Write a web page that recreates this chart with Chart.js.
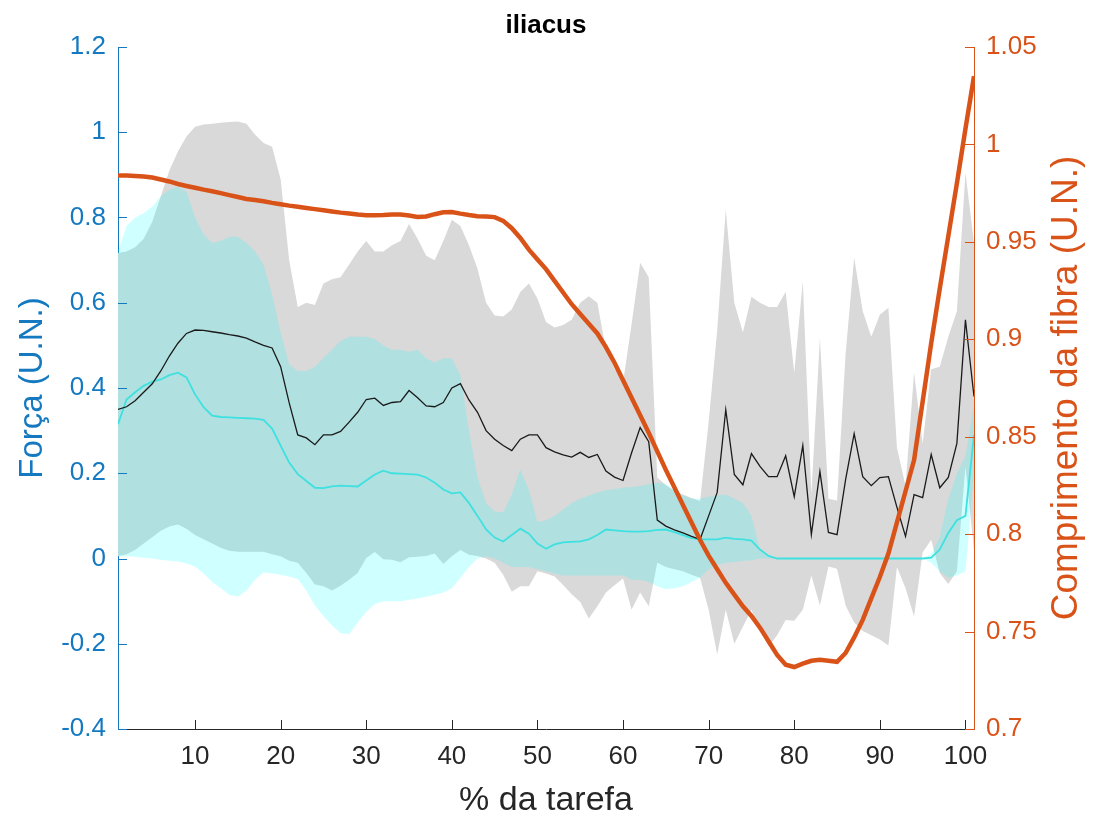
<!DOCTYPE html>
<html>
<head>
<meta charset="utf-8">
<title>iliacus</title>
<script src="https://cdn.jsdelivr.net/npm/chart.js@4.4.1/dist/chart.umd.min.js"></script>
<style>
  html, body { margin: 0; padding: 0; background: #fff; }
  #wrap { width: 1098px; height: 822px; }
</style>
</head>
<body>
<div id="wrap"><canvas id="chart" width="1098" height="822"></canvas></div>
<script>
// --- dados: % da tarefa (1..101) ---
const pct = [1,2,3,4,5,6,7,8,9,10,11,12,13,14,15,16,17,18,19,20,21,22,23,24,25,26,27,28,29,30,
  31,32,33,34,35,36,37,38,39,40,41,42,43,44,45,46,47,48,49,50,51,52,53,54,55,56,57,58,59,60,
  61,62,63,64,65,66,67,68,69,70,71,72,73,74,75,76,77,78,79,80,81,82,83,84,85,86,87,88,89,90,
  91,92,93,94,95,96,97,98,99,100,101];

// força média (linha preta) e faixa cinza
const forceMean = [.350,.356,.370,.390,.410,.440,.475,.505,.528,.536,
  .535,.532,.529,.525,.522,.517,.508,.500,.494,.450,
  .365,.290,.283,.267,.290,.290,.298,.320,.343,.373,
  .376,.359,.366,.368,.394,.377,.358,.356,.366,.400,
  .410,.372,.343,.300,.280,.265,.253,.280,.290,.290,
  .260,.250,.243,.238,.249,.237,.244,.205,.191,.183,
  .248,.307,.274,.090,.076,.067,.060,.052,.045,.100,
  .155,.349,.197,.173,.246,.216,.192,.192,.241,.145,
  .265,.056,.204,.061,.056,.185,.293,.192,.171,.190,
  .192,.120,.052,.150,.143,.244,.166,.190,.270,.560,.380];
const forceHi = [.717,.720,.730,.750,.790,.850,.910,.955,.990,1.013,
  1.018,1.020,1.022,1.024,1.025,1.020,.995,.975,.966,.890,
  .700,.590,.600,.595,.645,.655,.660,.690,.720,.745,
  .720,.720,.735,.745,.785,.750,.710,.700,.745,.795,
  .780,.735,.680,.600,.570,.568,.584,.625,.645,.610,
  .555,.542,.548,.560,.600,.615,.600,.490,.445,.413,
  .550,.694,.660,.190,.172,.159,.150,.142,.135,.320,
  .535,.818,.600,.530,.614,.600,.590,.590,.626,.436,
  .650,.150,.518,.140,.136,.480,.706,.580,.520,.572,
  .588,.260,.170,.436,.270,.444,.450,.520,.580,.905,.740];
const forceLo = [.005,.010,.020,.035,.050,.065,.075,.080,.070,.055,
  .045,.035,.025,.018,.016,.016,.016,.016,.010,.005,
  -.005,-.010,-.034,-.061,-.065,-.075,-.064,-.050,-.034,.001,
  .015,-.002,-.003,-.009,.003,.004,.006,.012,-.013,.005,
  .020,.009,.006,.000,-.010,-.038,-.078,-.065,-.065,-.030,
  -.035,-.042,-.062,-.084,-.102,-.141,-.112,-.080,-.063,-.047,
  -.120,-.080,-.112,-.010,-.020,-.025,-.030,-.038,-.045,-.120,
  -.225,-.120,-.200,-.160,-.120,-.168,-.206,-.180,-.144,-.146,
  -.120,-.040,-.110,-.019,-.024,-.110,-.150,-.170,-.180,-.190,
  -.204,-.020,-.070,-.136,.014,.044,-.034,-.060,-.030,.215,.020];

// força do músculo (linha ciano) e faixa ciano
const muscleMean = [.315,.373,.390,.405,.415,.420,.430,.436,.425,.385,
  .355,.335,.332,.331,.330,.329,.328,.325,.305,.265,
  .225,.198,.182,.166,.165,.169,.171,.170,.169,.183,
  .197,.206,.200,.199,.198,.197,.190,.178,.162,.153,
  .155,.130,.100,.068,.049,.040,.055,.070,.058,.035,
  .023,.033,.038,.039,.040,.045,.055,.068,.066,.064,
  .063,.063,.064,.067,.068,.062,.055,.048,.045,.045,
  .045,.049,.046,.045,.042,.021,.006,0,0,0,
  0,0,0,0,0,0,0,0,0,0,
  0,0,0,0,0,.002,.021,.060,.090,.100,.290];
const muscleHi = [.720,.780,.800,.810,.825,.850,.865,.872,.860,.800,
  .760,.740,.745,.755,.755,.740,.720,.690,.620,.530,
  .455,.440,.440,.450,.470,.490,.510,.520,.520,.520,
  .515,.500,.490,.490,.485,.490,.470,.460,.470,.470,
  .430,.300,.190,.130,.110,.108,.150,.210,.160,.085,
  .090,.100,.115,.130,.140,.148,.155,.160,.163,.166,
  .168,.170,.174,.178,.175,.160,.148,.140,.140,.145,
  .148,.150,.140,.130,.100,.020,.006,0,0,0,
  0,0,0,0,0,0,0,0,0,0,
  0,0,0,0,0,.010,.050,.140,.200,.240,.360];
const muscleLo = [.005,.005,.004,.002,.000,-.003,-.005,-.007,-.012,-.019,
  -.035,-.055,-.070,-.085,-.090,-.075,-.050,-.032,-.035,-.038,
  -.042,-.048,-.075,-.110,-.135,-.157,-.175,-.178,-.150,-.125,
  -.107,-.100,-.100,-.100,-.097,-.094,-.090,-.085,-.080,-.070,
  -.045,-.020,.000,.005,.000,-.010,-.020,-.020,-.020,-.025,
  -.030,-.035,-.040,-.040,-.040,-.040,-.040,-.040,-.040,-.040,
  -.050,-.050,-.055,-.065,-.072,-.070,-.065,-.055,-.045,-.025,
  -.015,-.010,-.008,-.006,-.004,0,0,0,0,0,
  0,0,0,0,0,0,0,0,0,0,
  0,0,0,0,0,-.010,-.030,-.045,-.040,-.030,.200];

// comprimento da fibra (eixo direito)
const fiberLen = [0.984,0.984,0.9838,0.9835,0.983,0.982,0.981,0.9797,0.9787,0.9778,
  0.9768,0.976,0.975,0.974,0.973,0.972,0.9715,0.9708,0.970,0.9693,
  0.9686,0.968,0.9674,0.9668,0.9662,0.9656,0.965,0.9645,0.964,0.9637,
  0.9637,0.9638,0.964,0.964,0.9635,0.9628,0.963,0.9642,0.9652,0.9653,
  0.9645,0.9638,0.9632,0.963,0.9627,0.9608,0.957,0.952,0.946,0.941,
  0.936,0.930,0.924,0.918,0.913,0.908,0.903,0.896,0.888,0.879,
  0.870,0.861,0.852,0.8425,0.833,0.824,0.815,0.806,0.797,0.789,
  0.782,0.775,0.769,0.763,0.758,0.752,0.745,0.738,0.733,0.7318,
  0.7335,0.735,0.7355,0.735,0.7345,0.739,0.747,0.756,0.767,0.778,
  0.790,0.806,0.822,0.838,0.868,0.898,0.926,0.953,0.980,1.008,1.035];

const xTicks = [10, 20, 30, 40, 50, 60, 70, 80, 90, 100];
const forceTicks = [-0.4, -0.2, 0, 0.2, 0.4, 0.6, 0.8, 1, 1.2];
const fiberTicks = [0.7, 0.75, 0.8, 0.85, 0.9, 0.95, 1, 1.05];

// --- estilos ---
const BLUE = '#1479c0';
const ORANGE = '#d95319';
const DARK = '#262626';
const FONT = 'Liberation Sans, Arial, Helvetica, sans-serif';
const tickFont = { family: FONT, size: 26 };

const pts = arr => pct.map((x, i) => ({ x: x, y: arr[i] }));
const fmt = v => String(Math.round(v * 100) / 100);

const lineBase = { pointRadius: 0, tension: 0, fill: false, yAxisID: 'y' };

// ticks para dentro + textos (título e rótulos dos eixos)
const axisDecor = {
    id: 'axisDecor',
    afterDraw(chart) {
        const { ctx, chartArea: a, scales } = chart;
        const len = 9;
        ctx.save();
        ctx.lineWidth = 1;

        ctx.beginPath();
        ctx.strokeStyle = DARK;
        scales.x.ticks.forEach(t => {
            const px = Math.round(scales.x.getPixelForValue(t.value)) + 0.5;
            ctx.moveTo(px, a.bottom); ctx.lineTo(px, a.bottom - len);
        });
        ctx.stroke();

        ctx.beginPath();
        ctx.strokeStyle = BLUE;
        scales.y.ticks.forEach(t => {
            const py = Math.round(scales.y.getPixelForValue(t.value)) + 0.5;
            ctx.moveTo(a.left, py); ctx.lineTo(a.left + len, py);
        });
        ctx.stroke();

        ctx.beginPath();
        ctx.strokeStyle = ORANGE;
        scales.y2.ticks.forEach(t => {
            const py = Math.round(scales.y2.getPixelForValue(t.value)) + 0.5;
            ctx.moveTo(a.right, py); ctx.lineTo(a.right - len, py);
        });
        ctx.stroke();

        const midY = (a.top + a.bottom) / 2;
        ctx.textAlign = 'center';
        ctx.textBaseline = 'middle';

        ctx.fillStyle = '#000';
        ctx.font = 'bold 26px ' + FONT;
        ctx.fillText('iliacus', (a.left + a.right) / 2, 26);

        ctx.fillStyle = DARK;
        ctx.font = '34px ' + FONT;
        ctx.fillText('% da tarefa', (a.left + a.right) / 2, 801);

        ctx.save();
        ctx.translate(33, midY);
        ctx.rotate(-Math.PI / 2);
        ctx.fillStyle = BLUE;
        ctx.font = '33px ' + FONT;
        ctx.fillText('Força (U.N.)', 0, 0);
        ctx.restore();

        ctx.save();
        ctx.translate(1067, midY);
        ctx.rotate(-Math.PI / 2);
        ctx.fillStyle = ORANGE;
        ctx.font = '37px ' + FONT;
        ctx.fillText('Comprimento da fibra (U.N.)', 0, 0);
        ctx.restore();

        ctx.restore();
    }
};

new Chart(document.getElementById('chart'), {
    type: 'line',
    data: {
        datasets: [
            { ...lineBase, label: 'comprimento', data: pts(fiberLen), yAxisID: 'y2',
              borderColor: ORANGE, borderWidth: 4.5, order: 1 },
            { ...lineBase, label: 'média', data: pts(forceMean),
              borderColor: '#1a1a1a', borderWidth: 1.3, order: 2 },
            { ...lineBase, label: 'músculo', data: pts(muscleMean),
              borderColor: '#3fe0e0', borderWidth: 1.8, order: 3 },
            { ...lineBase, label: 'músculo +dp', data: pts(muscleHi), borderWidth: 0,
              fill: { target: '+1', above: 'rgba(0,255,255,0.19)', below: 'rgba(0,255,255,0.19)' }, order: 4 },
            { ...lineBase, label: 'músculo -dp', data: pts(muscleLo), borderWidth: 0, order: 4 },
            { ...lineBase, label: 'média +dp', data: pts(forceHi), borderWidth: 0,
              fill: { target: '+1', above: 'rgb(217,217,217)', below: 'rgb(217,217,217)' }, order: 5 },
            { ...lineBase, label: 'média -dp', data: pts(forceLo), borderWidth: 0, order: 5 }
        ]
    },
    options: {
        responsive: false,
        animation: false,
        events: [],
        layout: { padding: { top: 47, left: 0, right: 0, bottom: 0 } },
        plugins: { legend: { display: false }, tooltip: { enabled: false }, title: { display: false } },
        scales: {
            x: {
                type: 'linear', min: 1, max: 101,
                afterBuildTicks: s => { s.ticks = xTicks.map(v => ({ value: v })); },
                afterFit: s => { s.height = 93; },
                grid: { display: false, drawTicks: false },
                border: { color: DARK, width: 1 },
                ticks: { color: DARK, font: tickFont, padding: 12, maxRotation: 0, autoSkip: false }
            },
            y: {
                position: 'left', min: -0.4, max: 1.2,
                afterBuildTicks: s => { s.ticks = forceTicks.map(v => ({ value: v })); },
                afterFit: s => { s.width = 118; },
                grid: { display: false, drawTicks: false },
                border: { color: BLUE, width: 1 },
                ticks: { color: BLUE, font: tickFont, padding: 12, callback: fmt }
            },
            y2: {
                position: 'right', min: 0.7, max: 1.05,
                afterBuildTicks: s => { s.ticks = fiberTicks.map(v => ({ value: v })); },
                afterFit: s => { s.width = 124; },
                grid: { display: false, drawTicks: false },
                border: { color: ORANGE, width: 1 },
                ticks: { color: ORANGE, font: tickFont, padding: 12, callback: fmt }
            }
        }
    },
    plugins: [axisDecor]
});
</script>
</body>
</html>
